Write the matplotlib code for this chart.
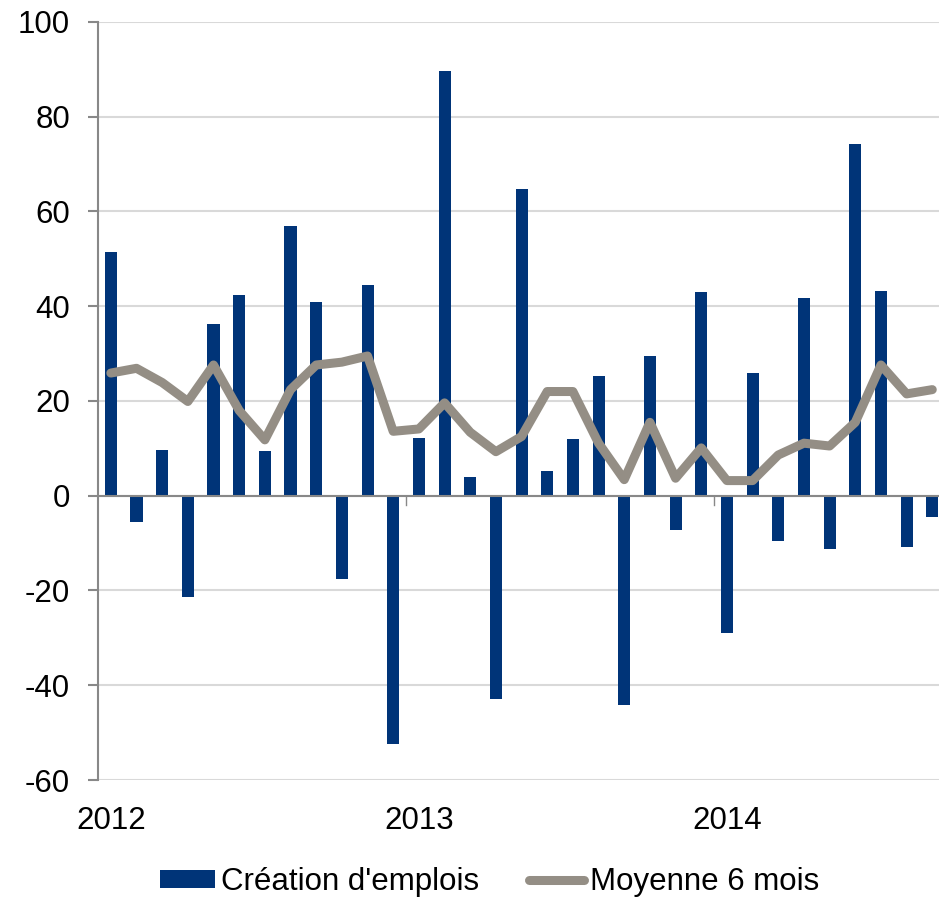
import matplotlib
matplotlib.use("Agg")
import matplotlib.pyplot as plt
import numpy as np

plt.rcParams['font.family'] = ['Liberation Sans', 'DejaVu Sans']

# Monthly data, Jan 2012 - Sep 2014
creation = [51.4, -5.6, 9.6, -21.4, 36.3, 42.3, 9.5, 57.0, 40.8, -17.6, 44.4, -52.5,
            12.1, 89.7, 3.9, -42.8, 64.7, 5.2, 11.9, 25.3, -44.1, 29.5, -7.2, 43.0,
            -29.0, 25.9, -9.5, 41.8, -11.2, 74.3, 43.2, -10.8, -4.4]
moyenne = [25.9, 26.9, 23.9, 19.9, 27.6, 18.0, 11.8, 22.4, 27.6, 28.2, 29.5, 13.6,
           14.1, 19.6, 13.4, 9.3, 12.5, 22.0, 22.0, 11.1, 3.4, 15.5, 3.7, 10.1,
           3.2, 3.2, 8.6, 11.1, 10.5, 15.5, 27.6, 21.5, 22.4]
year_labels = ['2012', '2013', '2014']
yticks = [-60, -40, -20, 0, 20, 40, 60, 80, 100]

bar_color = '#003478'
line_color = '#948E85'
FS = 22.5

fig = plt.figure(figsize=(9.39, 8.97), dpi=100)
ax = fig.add_axes([98/939, 1 - 780/897, 1 - 98/939, (780 - 22)/897])

x = np.arange(len(creation))
bars = ax.bar(x, creation, width=0.47, color=bar_color, zorder=3, label="Création d'emplois")
line, = ax.plot(x, moyenne, color=line_color, lw=6.5, solid_capstyle='round',
                solid_joinstyle='round', zorder=4, label='Moyenne 6 mois')

ax.set_ylim(-60, 100)
ax.set_xlim(-0.5, (939 - 98) / 25.67 - 0.5)
ax.set_yticks(yticks)
ax.set_yticklabels([str(v) for v in yticks])
ax.yaxis.grid(True, color='#D9D9D9', lw=1.5, zorder=0)
ax.axhline(0, color='#888888', lw=1.5, zorder=5)

for s in ['top', 'right', 'bottom']:
    ax.spines[s].set_visible(False)
ax.spines['left'].set_color('#888888')
ax.spines['left'].set_linewidth(1.5)

ax.tick_params(axis='y', length=7, width=1.5, color='#888888', labelsize=FS, pad=13)

# year labels at category centres, tick marks between years on zero line
ax.set_xticks([0, 12, 24])
ax.set_xticklabels(year_labels)
ax.tick_params(axis='x', length=0, labelsize=FS, pad=19)
for xt in [11.5, 23.5]:
    ax.plot([xt, xt], [0, -1.9], color='#888888', lw=1.0, zorder=5, clip_on=False)

fig.legend([bars, line], ["Création d'emplois", 'Moyenne 6 mois'],
           loc='center', bbox_to_anchor=(490/939, 1 - 882/897), ncol=2, frameon=False,
           fontsize=FS, handlelength=1.75, handleheight=0.55, handletextpad=0.2,
           columnspacing=1.6, borderpad=0, borderaxespad=0)

fig.savefig('out.png', dpi=100)
